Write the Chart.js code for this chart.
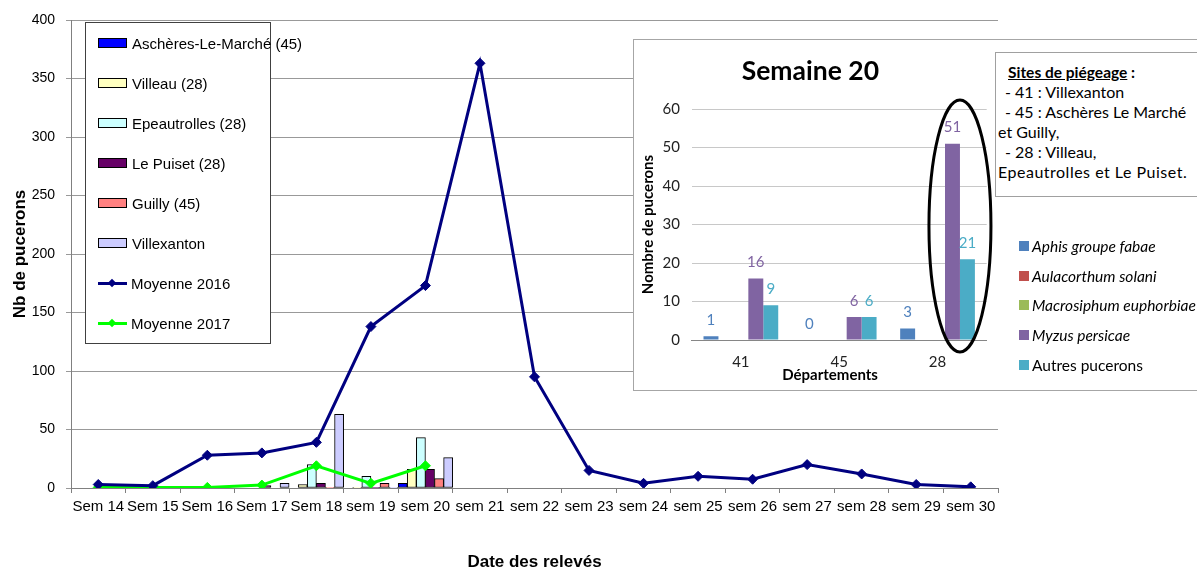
<!DOCTYPE html>
<html>
<head>
<meta charset="utf-8">
<script src="https://cdn.jsdelivr.net/npm/chart.js@4.4.1/dist/chart.umd.min.js"></script>
<style>
html,body{margin:0;padding:0;background:#fff;overflow:hidden;}
#wrap{position:relative;width:1197px;height:568px;overflow:hidden;}
#main{position:absolute;left:0;top:0;}
#legend{position:absolute;left:85px;top:22px;width:184px;height:320px;border:1px solid #404040;background:#fff;font:15px "Liberation Sans",Arial,sans-serif;color:#000;}
.li{position:absolute;left:12px;height:20px;display:flex;align-items:center;white-space:nowrap;}
.sw{width:27px;height:8px;border:1px solid #000;margin-right:5px;}
.ln{position:relative;width:29px;height:9px;margin-right:4px;}
.ln .bar{position:absolute;left:0;right:0;top:3px;height:3px;}
.ln .dia{position:absolute;left:11px;top:1px;width:6px;height:6px;transform:rotate(45deg);}
#inset{position:absolute;left:633px;top:39px;width:600px;height:350px;border:1px solid #a6a6a6;background:#fff;}
#insetCanvas{position:absolute;left:0;top:0;}
#sites{position:absolute;left:995px;top:52px;width:240px;height:145px;box-sizing:border-box;border:1px solid #a0a0a0;background:#fff;padding:9px 0 0 0;font:16px Lato,"Open Sans",sans-serif;line-height:20px;color:#000;white-space:nowrap;}
#sites div{padding-left:9px;}
#sites div.c{padding-left:2px;}
#sites div.c2{padding-left:2px;letter-spacing:0.5px;}
#sites .h{font-weight:bold;font-size:15.5px;padding-left:12px;}
#sites .h u{text-decoration:underline;}
#ilegend{position:absolute;left:1019px;top:236px;font:15.5px Lato,sans-serif;color:#000;}
.ili{position:absolute;left:0;height:20px;display:flex;align-items:center;white-space:nowrap;}
.isw{width:10px;height:10px;margin-right:3px;}
</style>
</head>
<body>
<div id="wrap">
  <canvas id="main" width="1197" height="573"></canvas>
  <div id="legend"></div>
  <div id="inset"><canvas id="insetCanvas" width="563" height="350"></canvas></div>
  <div id="sites">
    <div class="h"><u>Sites de piégeage</u> :</div>
    <div>- 41 : Villexanton</div>
    <div>- 45 : Aschères Le Marché</div>
    <div class="c">et Guilly,</div>
    <div>- 28 : Villeau,</div>
    <div class="c2">Epeautrolles et Le Puiset.</div>
  </div>
  <div id="ilegend"></div>
</div>
<script>
// ---------- Main chart data ----------
const weeks = ['Sem 14','Sem 15','Sem 16','Sem 17','Sem 18','sem 19','sem 20','sem 21','sem 22','sem 23','sem 24','sem 25','sem 26','sem 27','sem 28','sem 29','sem 30'];
const aschereLeMarche = [null,null,null,null,null,null,4,null,null,null,null,null,null,null,null,null,null];
const villeau         = [null,null,null,null,3,0.6,16,null,null,null,null,null,null,null,null,null,null];
const epeautrolles    = [null,null,null,null,20,10,43,null,null,null,null,null,null,null,null,null,null];
const lePuiset        = [null,null,null,2,4,0.6,16,null,null,null,null,null,null,null,null,null,null];
const guilly          = [null,null,null,null,0.6,4,8,null,null,null,null,null,null,null,null,null,null];
const villexanton     = [null,null,null,4,63,0.6,26,null,null,null,null,null,null,null,null,null,null];
const moyenne2016     = [3,2,28,30,39,138,173,363,95,15,4,10,7.5,20,12,3,1];
const moyenne2017     = [0.5,0.5,0.5,2.5,19,4,19,null,null,null,null,null,null,null,null,null,null];
const mainYMax = 400;
const mainYStep = 50;

// ---------- Inset chart data ----------
const departements = ['41','45','28'];
const aphisFabae   = [1,0,3];
const aulacorthum  = [0,0,0];
const macrosiphum  = [0,0,0];
const myzus        = [16,6,51];
const autres       = [9,6,21];
const insetYMax = 60;
const insetYStep = 10;

const ARIAL = '"Liberation Sans", Arial, sans-serif';
const CAL = 'Lato, "Open Sans", sans-serif';

function barDs(label, data, color){
  return {type:'bar', label, data, backgroundColor:color, borderColor:'#000', borderWidth:1, borderSkipped:false, order:2};
}
function lineDs(label, data, color){
  return {type:'line', label, data, borderColor:color, backgroundColor:color, borderWidth:3, pointStyle:'rectRot', pointRadius:5, pointBackgroundColor:color, pointBorderColor:color, pointBorderWidth:1, tension:0, order:0, spanGaps:false};
}

const mainDatasets = [
  barDs('Aschères-Le-Marché (45)', aschereLeMarche, '#0000FF'),
  barDs('Villeau (28)', villeau, '#FFFFC0'),
  barDs('Epeautrolles (28)', epeautrolles, '#CCFFFF'),
  barDs('Le Puiset (28)', lePuiset, '#660066'),
  barDs('Guilly (45)', guilly, '#FF8080'),
  barDs('Villexanton', villexanton, '#CCCCFF'),
  lineDs('Moyenne 2016', moyenne2016, '#000080'),
  lineDs('Moyenne 2017', moyenne2017, '#00FF00')
];

const mainChart = new Chart(document.getElementById('main'), {
  data: {labels: weeks, datasets: mainDatasets},
  options: {
    responsive:false, animation:false, devicePixelRatio:1,
    datasets:{bar:{categoryPercentage:1, barPercentage:1}},
    layout:{padding:{left:0, right:199, top:20, bottom:0}},
    plugins:{legend:{display:false}, tooltip:{enabled:false}, title:{display:false}},
    scales:{
      x:{
        afterFit(scale){ scale.height = 85; },
        grid:{display:true, drawOnChartArea:false, drawTicks:true, tickLength:5, color:'#808080', offset:true},
        border:{display:true, color:'#808080', width:1},
        ticks:{font:{family:ARIAL, size:15}, color:'#000', padding:5, maxRotation:0, autoSkip:false},
        title:{display:true, text:'Date des relevés', color:'#000', font:{family:ARIAL, size:17, weight:'bold'}, padding:{top:30, bottom:0}}
      },
      y:{
        afterFit(scale){ scale.width = 71; },
        min:0, max:mainYMax,
        ticks:{stepSize:mainYStep, font:{family:ARIAL, size:14}, color:'#000', padding:11},
        grid:{color:'#999999', tickLength:5, drawTicks:true},
        border:{display:true, color:'#808080', width:1},
        title:{display:true, text:'Nb de pucerons', color:'#000', font:{family:ARIAL, size:17, weight:'bold'}, padding:{top:10, bottom:0}}
      }
    }
  }
});

// Main legend (HTML) from the chart datasets
(function(){
  const lg = document.getElementById('legend');
  mainChart.data.datasets.forEach((ds, i) => {
    const item = document.createElement('div');
    item.className = 'li';
    item.style.top = (10.3 + 40*i) + 'px';
    let sw;
    if (ds.type === 'bar') {
      sw = document.createElement('div');
      sw.className = 'sw';
      sw.style.background = ds.backgroundColor;
    } else {
      sw = document.createElement('div');
      sw.className = 'ln';
      sw.innerHTML = '<div class="bar" style="background:'+ds.borderColor+'"></div><div class="dia" style="background:'+ds.borderColor+'"></div>';
    }
    item.appendChild(sw);
    const t = document.createElement('span');
    t.textContent = ds.label;
    item.appendChild(t);
    lg.appendChild(item);
  });
})();

// ---------- Inset chart ----------
const valueLabels = {
  id:'valueLabels',
  afterDatasetsDraw(chart){
    const ctx = chart.ctx;
    ctx.save();
    ctx.font = '15px ' + CAL;
    ctx.textAlign = 'center';
    ctx.textBaseline = 'middle';
    chart.data.datasets.forEach((ds, di) => {
      if (!ds.showValues) return;
      const meta = chart.getDatasetMeta(di);
      meta.data.forEach((bar, i) => {
        const v = ds.data[i];
        if (v === null || v === undefined) return;
        ctx.fillStyle = ds.backgroundColor;
        ctx.fillText(String(v), bar.x, bar.y - 16);
      });
    });
    // ellipse around department 28 (Myzus + Autres)
    const mM = chart.getDatasetMeta(3).data[2];
    const mA = chart.getDatasetMeta(4).data[2];
    const cx = (mM.x + mA.x) / 2;
    const top = chart.chartArea.top - 9;
    const bottom = chart.chartArea.bottom + 12;
    ctx.beginPath();
    ctx.ellipse(cx, (top+bottom)/2, 31, (bottom-top)/2, 0, 0, Math.PI*2);
    ctx.lineWidth = 3;
    ctx.strokeStyle = '#000';
    ctx.stroke();
    ctx.restore();
  }
};

const insetDatasets = [
  {label:'Aphis groupe fabae', data:aphisFabae, backgroundColor:'#4F81BD', showValues:true, italic:true},
  {label:'Aulacorthum solani', data:aulacorthum, backgroundColor:'#C0504D', showValues:false, italic:true},
  {label:'Macrosiphum euphorbiae', data:macrosiphum, backgroundColor:'#9BBB59', showValues:false, italic:true},
  {label:'Myzus persicae', data:myzus, backgroundColor:'#8064A2', showValues:true, italic:true},
  {label:'Autres pucerons', data:autres, backgroundColor:'#4BACC6', showValues:true, italic:false}
];

const insetChart = new Chart(document.getElementById('insetCanvas'), {
  type:'bar',
  data:{labels:departements, datasets:insetDatasets},
  options:{
    responsive:false, animation:false, devicePixelRatio:1,
    datasets:{bar:{categoryPercentage:0.76, barPercentage:1, borderWidth:0}},
    layout:{padding:{left:0, right:210.3, top:0, bottom:7}},
    plugins:{
      legend:{display:false}, tooltip:{enabled:false},
      title:{display:true, text:'Semaine 20', color:'#000', font:{family:CAL, size:26.5, weight:'bold'}, padding:{top:16, bottom:21.2}}
    },
    scales:{
      x:{
        afterFit(scale){ scale.height = 43; },
        grid:{display:false, drawTicks:false},
        border:{display:true, color:'#868686', width:1},
        ticks:{font:{family:CAL, size:15}, color:'#222', padding:13},
        title:{display:true, text:'Départements     ', color:'#000', font:{family:CAL, size:15, weight:'bold', lineHeight:1}, padding:{top:0, bottom:0}}
      },
      y:{
        afterFit(scale){ scale.width = 57.7; },
        min:0, max:insetYMax,
        ticks:{stepSize:insetYStep, font:{family:CAL, size:15}, color:'#222', padding:11.7},
        grid:{color:'#c8c8c8', drawTicks:false},
        border:{display:false},
        title:{display:true, text:'Nombre de pucerons', color:'#000', font:{family:CAL, size:15, weight:'bold'}, padding:{top:5, bottom:0}}
      }
    }
  },
  plugins:[valueLabels]
});

// Inset legend (HTML) from the inset datasets
(function(){
  const lg = document.getElementById('ilegend');
  insetChart.data.datasets.forEach((ds, i) => {
    const item = document.createElement('div');
    item.className = 'ili';
    item.style.top = (29.7*i) + 'px';
    const sw = document.createElement('div');
    sw.className = 'isw';
    sw.style.background = ds.backgroundColor;
    item.appendChild(sw);
    const t = document.createElement('span');
    t.textContent = ds.label;
    if (ds.italic) t.style.fontStyle = 'italic';
    item.appendChild(t);
    lg.appendChild(item);
  });
})();
</script>
</body>
</html>
